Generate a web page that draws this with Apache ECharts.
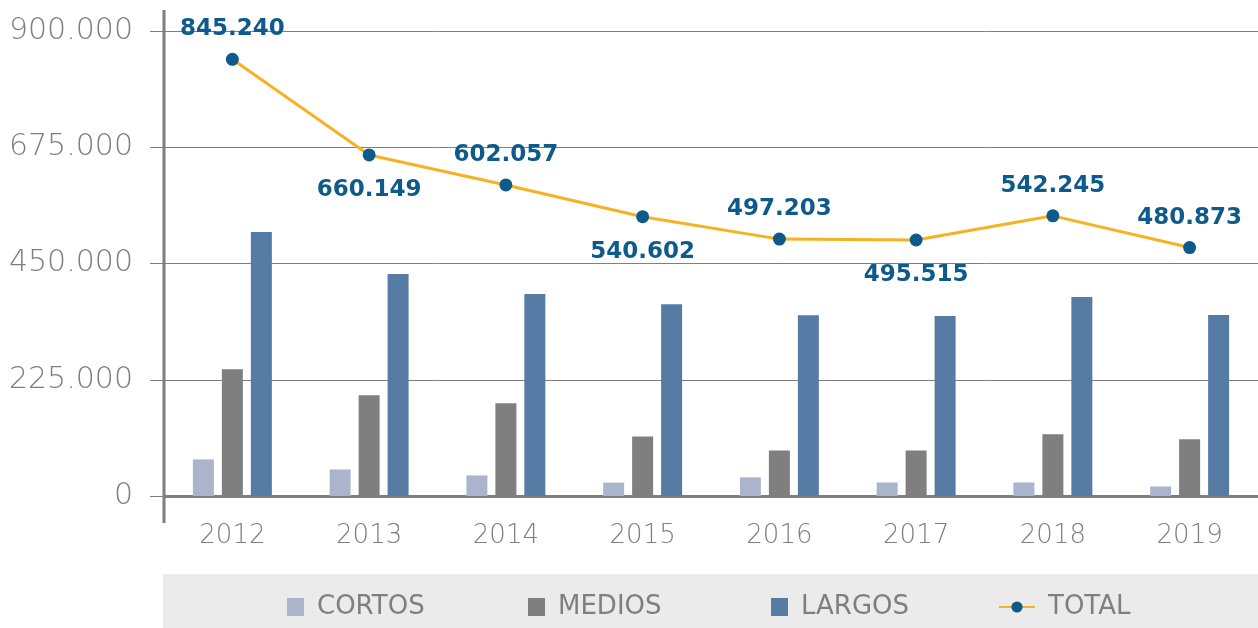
<!DOCTYPE html>
<html><head><meta charset="utf-8">
<script src="https://cdn.jsdelivr.net/npm/echarts@6/dist/echarts.min.js"></script>
<style>html,body{margin:0;padding:0;background:#fff}#c{width:1258px;height:628px}</style>
</head><body><div id="c"></div>
<script>
var years = ['2012','2013','2014','2015','2016','2017','2018','2019'];
var cortos = [70800, 51400, 39800, 26000, 36000, 26200, 26200, 18400];
var medios = [245400, 195000, 179400, 115000, 88000, 88300, 119300, 109600];
var largos = [511100, 429700, 390800, 371000, 350000, 348200, 385000, 350100];
var total = [845240, 660149, 602057, 540602, 497203, 495515, 542245, 480873];
var totalLabelPos = ['top','bottom','top','bottom','top','bottom','top','top'];
var yTicks = [0, 225000, 450000, 675000, 900000];

function fmt(v){ return String(Math.round(v)).replace(/\B(?=(\d{3})+(?!\d))/g, '.'); }
var grey = '#7f7f7f';
var FONT = 'DejaVu Sans';
var legendText = {fontFamily: FONT, fontSize: 26, color: grey, fontWeight: 'normal', padding: [0,0,0,8]};
function leg(name, left, icon, w, h){
  var d = icon ? {name: name, icon: icon} : name;
  return {left: left, top: 589, itemWidth: w, itemHeight: h, textStyle: legendText, data: [d]};
}
var chart = echarts.init(document.getElementById('c'));
chart.setOption({
  animation: false,
  textStyle: {fontFamily: FONT},
  grid: {left: 164, right: 0, top: 31, bottom: 132},
  graphic: [
    {type: 'rect', z: -10, shape: {x: 163, y: 574, width: 1095, height: 54}, style: {fill: '#ebebeb'}},
    {type: 'line', z: 10, shape: {x1: 164, y1: 10, x2: 164, y2: 523}, style: {stroke: grey, lineWidth: 3}}
  ],
  legend: [
    leg('CORTOS', 282, 'rect', 17, 18),
    leg('MEDIOS', 523, 'rect', 17, 18),
    leg('LARGOS', 766, 'rect', 17, 18),
    leg('TOTAL', 993, null, 36, 14)
  ],
  xAxis: {
    type: 'category', data: years,
    axisLine: {lineStyle: {color: grey, width: 3}},
    axisTick: {show: false},
    axisLabel: {color: grey, fontSize: 26, fontWeight: 200, margin: 27, fontFamily: FONT}
  },
  yAxis: {
    type: 'value', min: yTicks[0], max: yTicks[yTicks.length-1], interval: yTicks[1]-yTicks[0],
    axisLine: {show: false},
    axisTick: {show: true, length: 14, lineStyle: {color: grey, width: 1}},
    splitLine: {lineStyle: {color: grey, width: 1}},
    axisLabel: {color: grey, fontSize: 30, fontWeight: 200, margin: 31, fontFamily: FONT, formatter: fmt}
  },
  series: [
    {name: 'CORTOS', type: 'bar', data: cortos, barWidth: 21, barGap: '38%', itemStyle: {color: '#aab5cd'}},
    {name: 'MEDIOS', type: 'bar', data: medios, barWidth: 21, barGap: '38%', itemStyle: {color: '#7f7f7f'}},
    {name: 'LARGOS', type: 'bar', data: largos, barWidth: 21, barGap: '38%', itemStyle: {color: '#567ca5'}},
    {name: 'TOTAL', type: 'line', z: 5,
     data: total.map(function(v, i){
       var top = totalLabelPos[i] === 'top';
       return {value: v, label: {position: totalLabelPos[i], distance: top ? 12 : 17}};
     }),
     symbol: 'circle', symbolSize: 13,
     lineStyle: {color: '#f5b324', width: 3},
     itemStyle: {color: '#0e5a8a'},
     label: {show: true, color: '#0e5a8a', fontSize: 23, fontWeight: 'bold', fontFamily: FONT, formatter: function(p){ return fmt(p.value); }}
    }
  ]
});
</script></body></html>
